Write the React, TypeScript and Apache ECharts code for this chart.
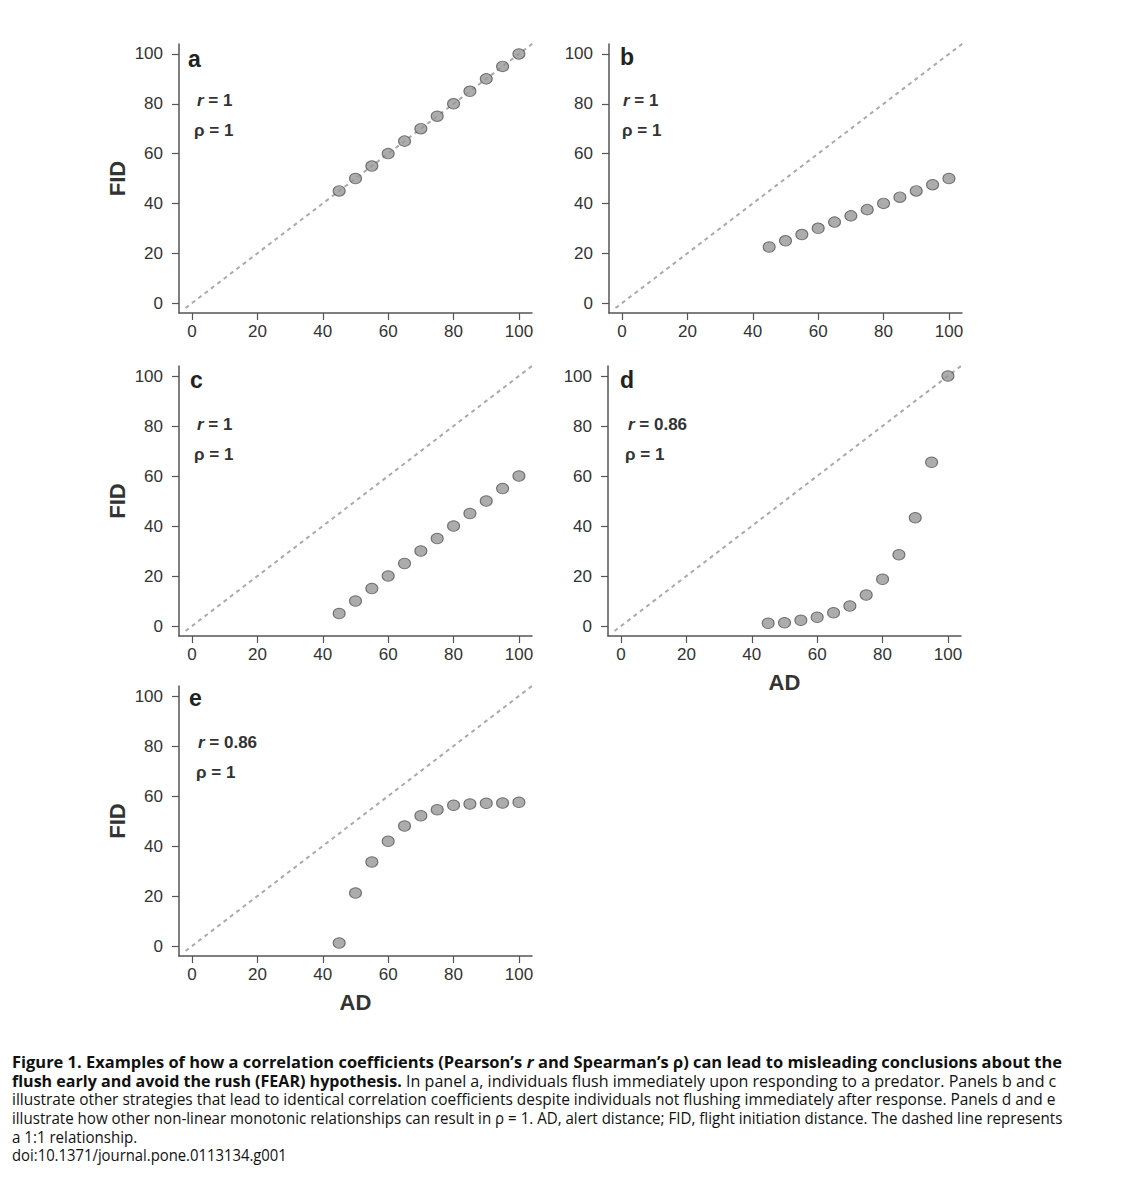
import React, { useEffect, useRef } from "react";
import * as echarts from "echarts";

// ---------- data ----------
const AD = [45, 50, 55, 60, 65, 70, 75, 80, 85, 90, 95, 100];
const FID_A = [45, 50, 55, 60, 65, 70, 75, 80, 85, 90, 95, 100];
const FID_B = [22.5, 25, 27.5, 30, 32.5, 35, 37.5, 40, 42.5, 45, 47.5, 50];
const FID_C = [5, 10, 15, 20, 25, 30, 35, 40, 45, 50, 55, 60];
const FID_D = [1.1, 1.3, 2.3, 3.5, 5.3, 8, 12.4, 18.7, 28.5, 43.3, 65.5, 100];
const FID_E = [1.2, 21.2, 33.6, 41.9, 48, 52.1, 54.5, 56.3, 56.8, 57.1, 57.2, 57.5];
const PANEL_FID = [FID_A, FID_B, FID_C, FID_D, FID_E];
const PANEL_LETTERS = ["a", "b", "c", "d", "e"];
const PEARSON_R = ["1", "1", "1", "0.86", "0.86"];
const SPEARMAN_RHO = ["1", "1", "1", "1", "1"];
const TICKS = [0, 20, 40, 60, 80, 100];
const AXIS_MIN = -4;
const AXIS_MAX = 104;
const IDENTITY_LINE = [-2, 105];

// ---------- layout (pixels) ----------
const LAYOUT = [
  { left: 179, top: 44, height: 269, yName: true, xName: false, letter: [188, 59], r: [197, 100], rho: [194, 130] },
  { left: 609, top: 44, height: 269, yName: false, xName: false, letter: [620, 57], r: [623, 100], rho: [622, 130] },
  { left: 179, top: 366, height: 270, yName: true, xName: false, letter: [190, 380], r: [197, 424], rho: [194, 454] },
  { left: 608, top: 366, height: 270, yName: false, xName: true, letter: [620, 380], r: [628, 424], rho: [625, 454] },
  { left: 179, top: 686, height: 270, yName: true, xName: true, letter: [189, 698], r: [198, 742], rho: [196, 772] },
];
const GRID_WIDTH = 353;

const AX_FONT = '"Liberation Sans", Arial, sans-serif';
const CAP_FONT = '"Open Sans", "Noto Sans", sans-serif';
const CAP_SIZE = 16;

type Seg = { t: string; s: "b" | "bi" | "n" };
const CAPTION: { segs: Seg[]; end: number | null; y: number }[] = [
  {
    segs: [
      { t: "Figure 1. Examples of how a correlation coefficients (Pearson\u2019s ", s: "b" },
      { t: "r", s: "bi" },
      { t: " and Spearman\u2019s \u03c1) can lead to misleading conclusions about the", s: "b" },
    ],
    end: 1063,
    y: 1062,
  },
  {
    segs: [
      { t: "flush early and avoid the rush (FEAR) hypothesis.", s: "b" },
      { t: " In panel a, individuals flush immediately upon responding to a predator. Panels b and c", s: "n" },
    ],
    end: 1057,
    y: 1081,
  },
  {
    segs: [
      { t: "illustrate other strategies that lead to identical correlation coefficients despite individuals not flushing immediately after response. Panels d and e", s: "n" },
    ],
    end: 1057,
    y: 1099,
  },
  {
    segs: [
      { t: "illustrate how other non-linear monotonic relationships can result in \u03c1 = 1. AD, alert distance; FID, flight initiation distance. The dashed line represents", s: "n" },
    ],
    end: 1063,
    y: 1118,
  },
  { segs: [{ t: "a 1:1 relationship.", s: "n" }], end: null, y: 1137 },
  { segs: [{ t: "doi:10.1371/journal.pone.0113134.g001", s: "n" }], end: 287, y: 1155 },
];
const CAP_LEFT = 12;

function fontFor(s: string) {
  const w = s === "n" ? "normal" : "bold";
  const st = s === "bi" ? "italic" : "normal";
  return `${st} ${w} ${CAP_SIZE}px ${CAP_FONT}`;
}

export default function App() {
  const ref = useRef<HTMLDivElement>(null);
  useEffect(() => {
    if (!ref.current) return;
    const chart = echarts.init(ref.current, undefined, { renderer: "svg" });

    const canvas = document.createElement("canvas");
    const ctx = canvas.getContext("2d")!;
    const measure = (segs: Seg[]) =>
      segs.reduce((acc, sg) => {
        ctx.font = fontFor(sg.s);
        return acc + ctx.measureText(sg.t).width;
      }, 0);

    const grids: any[] = [];
    const xAxes: any[] = [];
    const yAxes: any[] = [];
    const series: any[] = [];
    const graphics: any[] = [];

    LAYOUT.forEach((L, i) => {
      grids.push({ left: L.left, top: L.top, width: GRID_WIDTH, height: L.height, containLabel: false });
      const axisLine = { show: true, onZero: false, lineStyle: { color: "#555", width: 1.5 } };
      const axisTick = { show: true, length: 7, customValues: TICKS, lineStyle: { color: "#555", width: 1.2 } };
      xAxes.push({
        type: "value",
        gridIndex: i,
        position: "bottom",
        min: AXIS_MIN,
        max: AXIS_MAX,
        axisLine,
        axisTick,
        axisLabel: { customValues: TICKS, margin: 10, fontSize: 17, color: "#333", fontFamily: AX_FONT },
        splitLine: { show: false },
        name: L.xName ? "AD" : "",
        nameLocation: "middle",
        nameGap: 35,
        nameTextStyle: { fontSize: 22, fontWeight: "bold", color: "#333", fontFamily: AX_FONT },
      });
      yAxes.push({
        type: "value",
        gridIndex: i,
        position: "left",
        min: AXIS_MIN,
        max: AXIS_MAX,
        axisLine,
        axisTick,
        axisLabel: { customValues: TICKS, margin: 16, fontSize: 17, color: "#333", fontFamily: AX_FONT },
        splitLine: { show: false },
        name: L.yName ? "FID" : "",
        nameLocation: "middle",
        nameRotate: 90,
        nameGap: 51,
        nameTextStyle: { fontSize: 22, fontWeight: "bold", color: "#333", fontFamily: AX_FONT },
      });
      series.push({
        type: "line",
        xAxisIndex: i,
        yAxisIndex: i,
        data: [
          [IDENTITY_LINE[0], IDENTITY_LINE[0]],
          [IDENTITY_LINE[1], IDENTITY_LINE[1]],
        ],
        clip: false,
        symbol: "none",
        lineStyle: { color: "#aaa", width: 2, type: [4, 4] },
        z: 1,
      });
      series.push({
        type: "scatter",
        xAxisIndex: i,
        yAxisIndex: i,
        data: AD.map((x, k) => [x, PANEL_FID[i][k]]),
        symbol: "circle",
        symbolSize: [12, 10.5],
        itemStyle: { color: "#979797", borderColor: "#555", borderWidth: 1 },
        z: 3,
      });
      graphics.push({
        type: "text",
        x: L.letter[0],
        y: L.letter[1],
        style: {
          text: PANEL_LETTERS[i],
          font: `bold 23px ${AX_FONT}`,
          fill: "#222",
          verticalAlign: "middle",
          align: "left",
        },
      });
      graphics.push({
        type: "text",
        x: L.r[0],
        y: L.r[1],
        style: {
          text: `{i|r}{n| = ${PEARSON_R[i]}}`,
          verticalAlign: "middle",
          align: "left",
          rich: {
            i: { fontSize: 17, fontWeight: "bold", fontStyle: "italic", fontFamily: AX_FONT, fill: "#333" },
            n: { fontSize: 17, fontWeight: "bold", fontFamily: AX_FONT, fill: "#333" },
          },
        },
      });
      graphics.push({
        type: "text",
        x: L.rho[0],
        y: L.rho[1],
        style: {
          text: `\u03c1 = ${SPEARMAN_RHO[i]}`,
          font: `bold 17px ${AX_FONT}`,
          fill: "#333",
          verticalAlign: "middle",
          align: "left",
        },
      });
    });

    let lastScale = 0.9;
    CAPTION.forEach((line) => {
      const w = measure(line.segs);
      const sx = line.end === null ? lastScale : (line.end - CAP_LEFT) / w;
      lastScale = sx;
      const esc = (t: string) => t.replace(/[{}|]/g, "");
      graphics.push({
        type: "text",
        x: CAP_LEFT,
        y: line.y,
        scaleX: sx,
        style: {
          text: line.segs.map((sg) => `{${sg.s}|${esc(sg.t)}}`).join(""),
          verticalAlign: "middle",
          align: "left",
          rich: {
            b: { fontSize: CAP_SIZE, fontWeight: "bold", fontFamily: CAP_FONT, fill: "#111" },
            bi: { fontSize: CAP_SIZE, fontWeight: "bold", fontStyle: "italic", fontFamily: CAP_FONT, fill: "#111" },
            n: { fontSize: CAP_SIZE, fontWeight: "normal", fontFamily: CAP_FONT, fill: "#111" },
          },
        },
      });
    });

    chart.setOption({
      animation: false,
      backgroundColor: "#fff",
      grid: grids,
      xAxis: xAxes,
      yAxis: yAxes,
      series,
      graphic: graphics,
    });
    return () => chart.dispose();
  }, []);

  return (
    <div
      ref={ref}
      style={{ position: "absolute", left: 0, top: 0, width: 1121, height: 1200, background: "#fff" }}
    />
  );
}
